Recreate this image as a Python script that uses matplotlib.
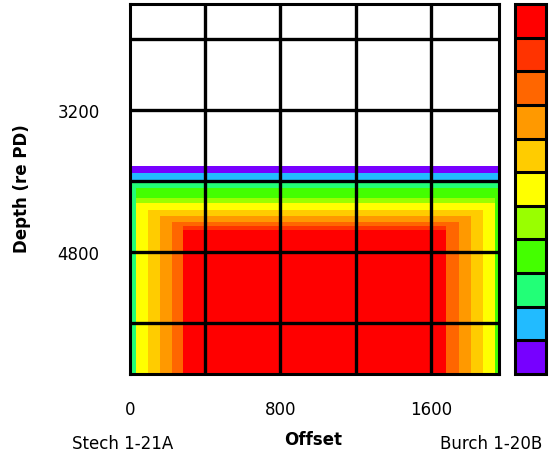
import numpy as np
import matplotlib
matplotlib.use("Agg")
import matplotlib.pyplot as plt
from matplotlib.colors import ListedColormap, BoundaryNorm

# colour classes of the scale, bottom (0) to top (10)
level_colors = ["#7700ff", "#22bbff", "#22ff77", "#44ff00", "#99ff00",
                "#ffff00", "#ffcc00", "#ff9900", "#ff6600", "#ff3300", "#ff0000"]

depth_tops = [3830, 3910, 4000, 4080, 4190, 4250, 4330, 4400, 4460, 4510, 4550]
depth_levels = [0, 1, 2, 3, 4, 5, 6, 7, 8, 9, 10]
depth_bottom = 6180

# offset profile: left edge of each strip and its class (edges of the section)
offset_starts = [0, 30, 96, 160, 224, 283, 1680, 1749, 1813, 1877, 1941]
offset_levels = [2, 5, 6, 7, 8, 10, 8, 7, 6, 5, 3]
offset_end = 1963

x_ticks = [0, 800, 1600]
y_ticks = [3200, 4800]
x_grid = [400, 800, 1200, 1600]
y_grid = [2400, 3200, 4000, 4800, 5600]
x_range = (0, 1963)
y_range = (2000, 6180)

W, H = 557, 456
fig = plt.figure(figsize=(W / 100, H / 100), dpi=100)
plt.rcParams['font.family'] = ['DejaVu Sans']


def box(x0, y0, x1, y1):
    # pixel box -> figure fraction rect
    return [x0 / W, 1 - y1 / H, (x1 - x0) / W, (y1 - y0) / H]


ax = fig.add_axes(box(130, 5, 499, 375))

# table of classes, each cell = the lower of the two profiles
z = np.minimum.outer(np.array(depth_levels), np.array(offset_levels))
x_edges = offset_starts + [offset_end]
y_edges = depth_tops + [depth_bottom]

cmap = ListedColormap(level_colors)
norm = BoundaryNorm(np.arange(-0.5, len(level_colors) + 0.5, 1), cmap.N)
mesh = ax.pcolormesh(x_edges, y_edges, z, cmap=cmap, norm=norm, shading='flat')

ax.set_xlim(*x_range)
ax.set_ylim(y_range[1], y_range[0])

# thick black grid on top of the data
for gx in x_grid:
    ax.axvline(gx, color='black', lw=2.4, zorder=5)
for gy in y_grid:
    ax.axhline(gy, color='black', lw=2.4, zorder=5)
for sp in ax.spines.values():
    sp.set_linewidth(2.2)
    sp.set_zorder(6)

ax.set_xticks(x_ticks)
ax.set_yticks(y_ticks)
ax.set_xticklabels([str(v) for v in x_ticks], fontsize=12)
ax.set_yticklabels([str(v) for v in y_ticks], fontsize=12)
ax.tick_params(axis='x', length=0, pad=19)
ax.tick_params(axis='y', length=0, pad=22)

fig.text(22 / W, 1 - 189 / H, "Depth (re PD)", rotation=90, fontsize=12,
         fontweight='bold', ha='center', va='center')
fig.text(313 / W, 1 - 440 / H, "Offset", fontsize=12, fontweight='bold',
         ha='center', va='center')
fig.text(72 / W, 1 - 444 / H, "Stech 1-21A", fontsize=12, ha='left', va='center')
fig.text(440 / W, 1 - 444 / H, "Burch 1-20B", fontsize=12, ha='left', va='center')

# colour scale
cax = fig.add_axes(box(515, 5, 546, 375))
cb = fig.colorbar(mesh, cax=cax, drawedges=True, ticks=[])
cb.ax.minorticks_off()
cb.ax.tick_params(length=0, which='both')
cb.outline.set_linewidth(2.2)
cb.dividers.set_linewidth(2.2)
cb.dividers.set_color('black')

fig.savefig("out.png", dpi=100)
